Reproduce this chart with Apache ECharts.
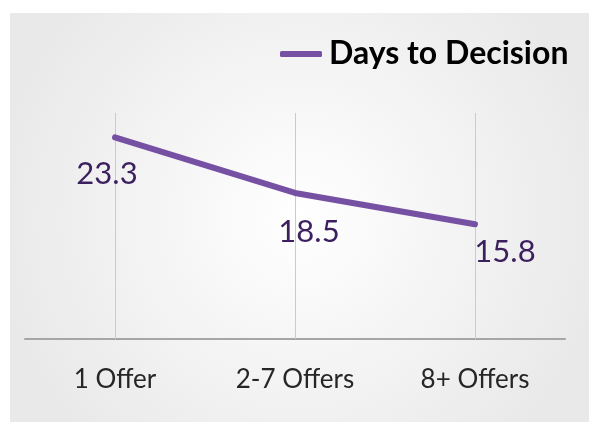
<!DOCTYPE html>
<html>
<head>
<meta charset="utf-8">
<script src="https://cdn.jsdelivr.net/npm/echarts@6/dist/echarts.min.js"></script>
<style>
  html, body { margin: 0; padding: 0; background: #fff; }
  #chart { width: 589px; height: 422px; }
</style>
</head>
<body>
<div id="chart"></div>
<script>
  var categories = ['1 Offer', '2-7 Offers', '8+ Offers'];
  var daysToDecision = [23.3, 18.5, 15.8];
  var seriesName = 'Days to Decision';
  // label nudges, the data labels sit below / right of the points
  var labelOffsets = [[-8, 16], [14, 18], [30, 7]];

  var chart = echarts.init(document.getElementById('chart'));

  var purple = '#7650a3';
  var labelColor = '#3b1f5e';

  var option = {
    animation: false,
    graphic: [{
      type: 'rect',
      left: 10, top: 13,
      shape: { width: 579, height: 409 },
      z: -10,
      style: {
        fill: new echarts.graphic.RadialGradient(0.5, 0.5, 0.75, [
          { offset: 0, color: '#ffffff' },
          { offset: 1, color: '#e9e9e9' }
        ])
      }
    }],
    legend: {
      data: [seriesName],
      left: 275,
      top: 33,
      icon: 'roundRect',
      itemWidth: 42,
      itemHeight: 6,
      textStyle: {
        fontFamily: 'Lato, sans-serif',
        fontWeight: 'bold',
        fontSize: 32,
        color: '#000',
        padding: [0, 0, 0, 2]
      }
    },
    grid: { left: 25, right: 24, top: 113, bottom: 83 },
    xAxis: {
      type: 'category',
      data: categories,
      boundaryGap: true,
      axisLine: { lineStyle: { color: '#a6a6a6', width: 2 } },
      axisTick: {
        show: true,
        inside: true,
        alignWithLabel: true,
        length: 226,
        lineStyle: { color: '#cbcbcb', width: 1 }
      },
      axisLabel: {
        fontFamily: 'Lato, sans-serif',
        fontSize: 26,
        color: '#262626',
        margin: 28
      },
      splitLine: { show: false }
    },
    yAxis: {
      type: 'value',
      min: 5.9,
      max: 25.4,
      show: false,
      splitLine: { show: false }
    },
    series: [{
      name: seriesName,
      type: 'line',
      data: daysToDecision.map(function (v, i) {
        return { value: v, label: { offset: labelOffsets[i] } };
      }),
      symbol: 'circle',
      symbolSize: 1,
      showSymbol: true,
      color: purple,
      itemStyle: { color: purple },
      lineStyle: { color: purple, width: 6, cap: 'round', join: 'round' },
      label: {
        show: true,
        position: 'bottom',
        fontFamily: 'Lato, sans-serif',
        fontSize: 31,
        color: labelColor,
        formatter: function (p) { return p.value.toFixed(1); }
      }
    }]
  };

  chart.setOption(option);
</script>
</body>
</html>
